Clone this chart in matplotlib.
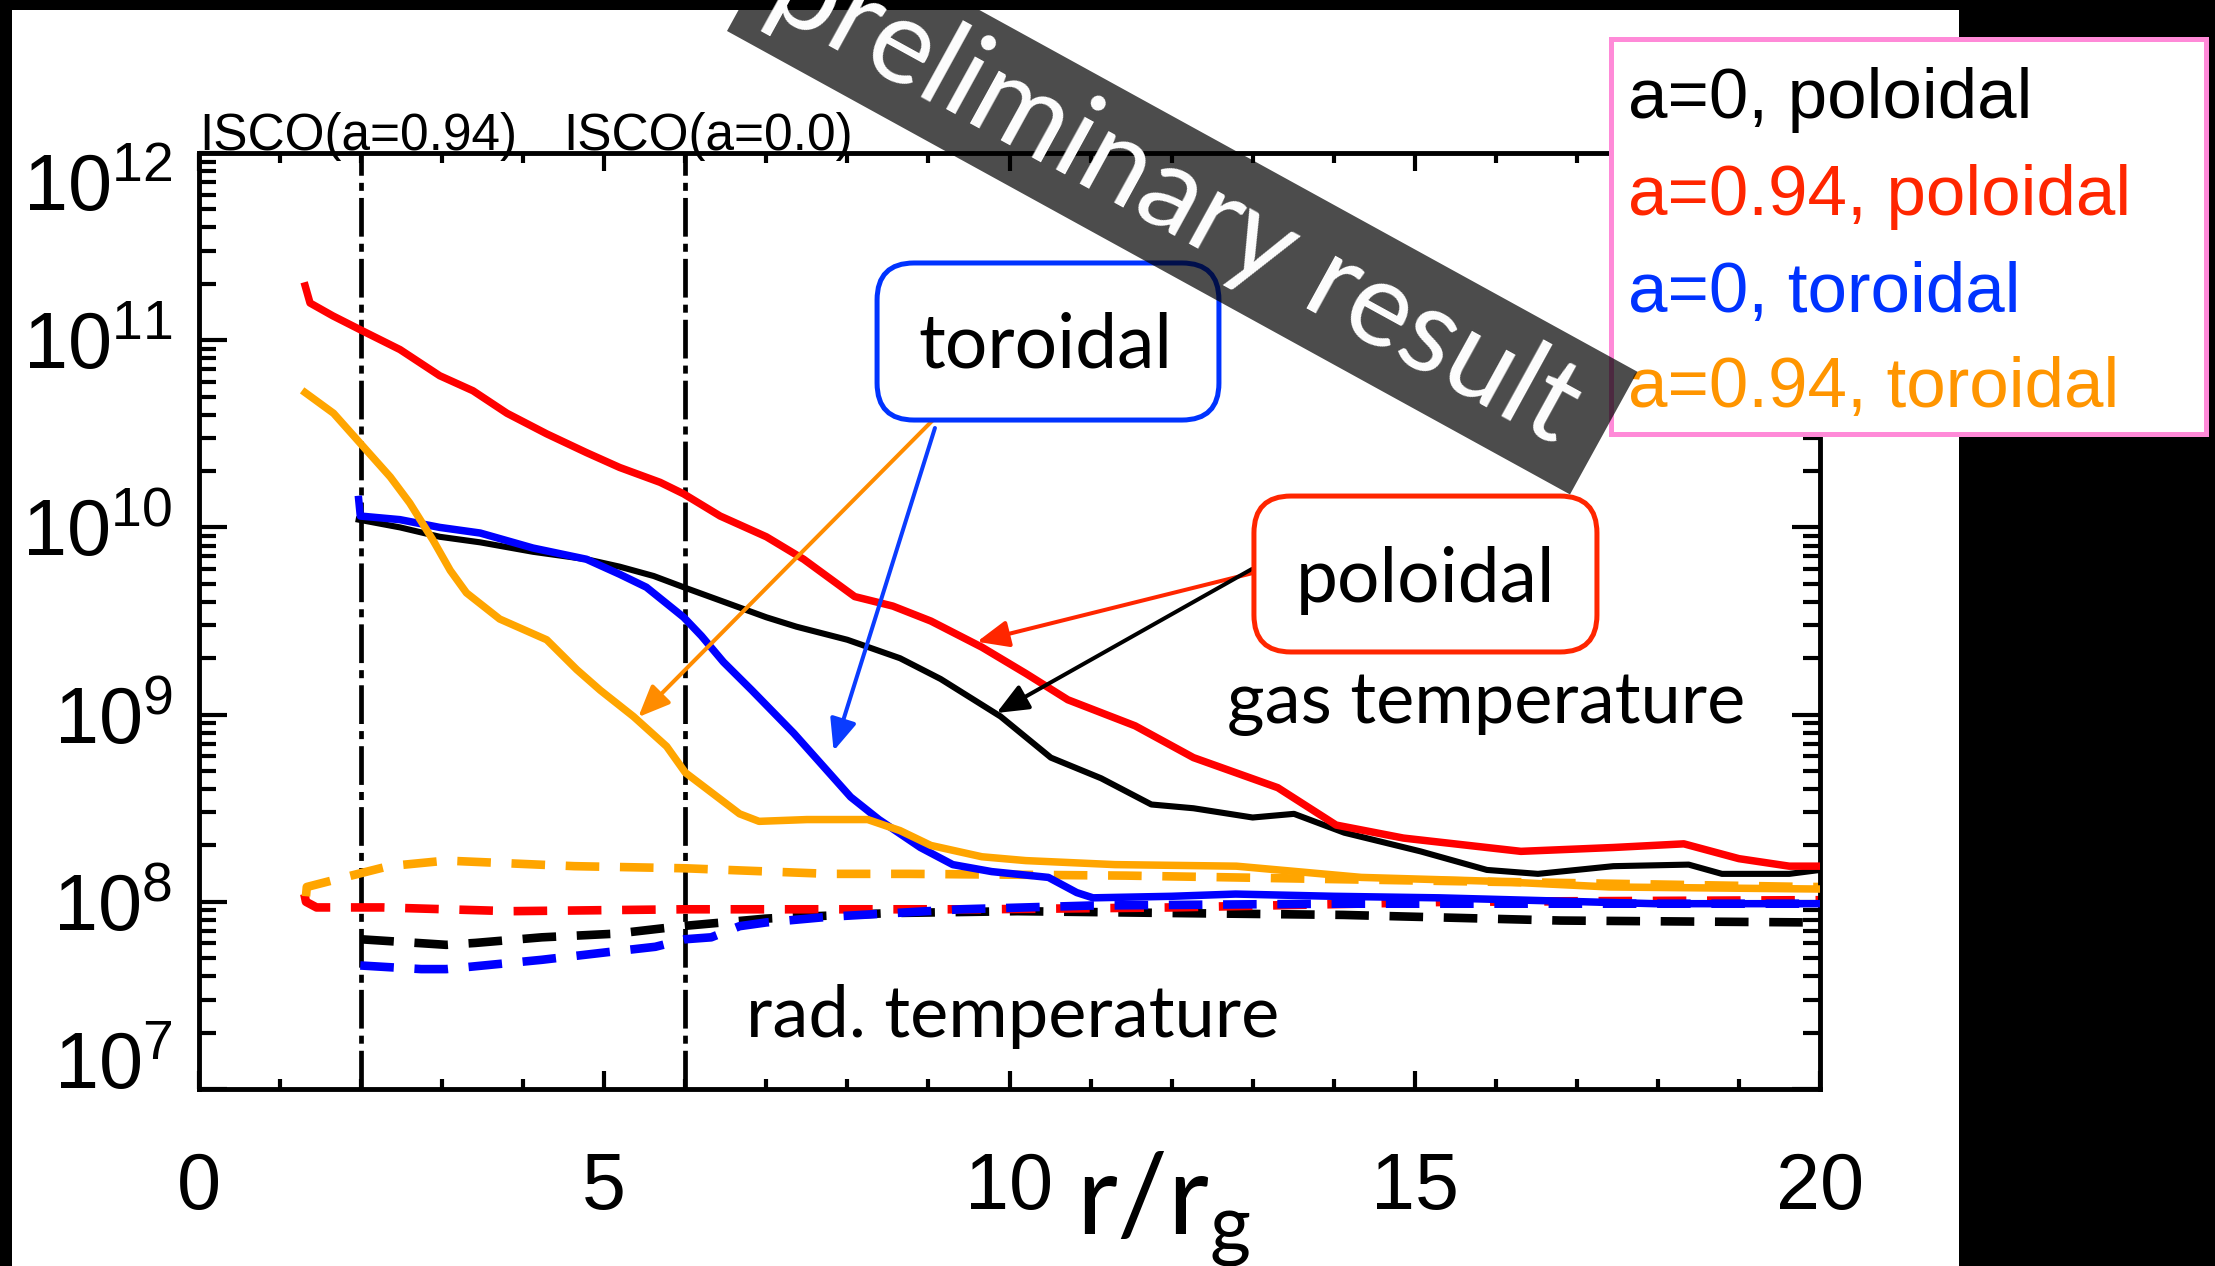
import numpy as np
import matplotlib
matplotlib.use("Agg")
import matplotlib.pyplot as plt
from matplotlib.patches import Rectangle, FancyBboxPatch, Polygon
from matplotlib.ticker import (LogLocator, LogFormatterMathtext, MultipleLocator,
                               NullFormatter, FixedLocator)

plt.rcParams['font.family'] = ['Liberation Sans', 'DejaVu Sans']
plt.rcParams['mathtext.default'] = 'regular'

# ---------------------------------------------------------------- data
# gas temperature, a=0 poloidal
r_gas_a0_pol = [1.97, 2.48, 2.97, 3.47, 4.12, 4.78, 5.19, 5.61, 5.98, 6.43, 7.00, 7.37,
                8.0, 8.65, 9.15, 9.89, 10.51, 11.13, 11.75, 12.27, 13.0, 13.51, 14.13,
                15.07, 15.89, 16.52, 17.45, 18.38, 18.79, 19.62, 20.0]
T_gas_a0_pol = [1.10e10, 1.00e10, 8.91e9, 8.32e9, 7.41e9, 6.76e9, 6.17e9, 5.50e9, 4.79e9,
                4.07e9, 3.31e9, 2.95e9, 2.51e9, 2.00e9, 1.55e9, 9.77e8, 5.89e8, 4.57e8,
                3.31e8, 3.16e8, 2.82e8, 2.95e8, 2.34e8, 1.86e8, 1.48e8, 1.41e8, 1.55e8,
                1.58e8, 1.41e8, 1.41e8, 1.48e8]

# gas temperature, a=0.94 poloidal
r_gas_a094_pol = [1.31, 1.37, 1.65, 2.02, 2.48, 2.97, 3.38, 3.80, 4.29, 4.78, 5.19, 5.69,
                  5.98, 6.43, 7.00, 7.46, 8.09, 8.56, 9.03, 9.66, 10.2, 10.72, 11.55, 12.27,
                  13.31, 14.03, 14.86, 15.89, 16.31, 17.45, 18.32, 19.0, 19.62, 20.0]
T_gas_a094_pol = [1.95e11, 1.58e11, 1.35e11, 1.12e11, 8.91e10, 6.46e10, 5.37e10, 4.07e10,
                  3.16e10, 2.51e10, 2.09e10, 1.74e10, 1.51e10, 1.15e10, 8.91e9, 6.76e9,
                  4.27e9, 3.80e9, 3.16e9, 2.29e9, 1.66e9, 1.20e9, 8.71e8, 5.89e8, 4.07e8,
                  2.57e8, 2.19e8, 1.95e8, 1.86e8, 1.95e8, 2.04e8, 1.70e8, 1.55e8, 1.55e8]

# gas temperature, a=0 toroidal
r_gas_a0_tor = [1.97, 1.99, 2.48, 2.97, 3.47, 4.12, 4.78, 5.19, 5.52, 5.98, 6.20, 6.47,
                6.82, 7.34, 8.04, 8.39, 8.90, 9.30, 9.78, 10.48, 10.83, 11.03, 12.0, 12.79,
                14.0, 15.3, 17.96, 20.0]
T_gas_a0_tor = [1.41e10, 1.15e10, 1.10e10, 1.00e10, 9.33e9, 7.76e9, 6.76e9, 5.62e9, 4.79e9,
                3.31e9, 2.63e9, 1.91e9, 1.35e9, 7.94e8, 3.63e8, 2.75e8, 1.95e8, 1.58e8,
                1.45e8, 1.35e8, 1.12e8, 1.05e8, 1.07e8, 1.10e8, 1.07e8, 1.05e8, 9.77e7,
                9.77e7]

# gas temperature, a=0.94 toroidal
r_gas_a094_tor = [1.31, 1.66, 2.03, 2.36, 2.60, 2.89, 3.10, 3.30, 3.71, 4.29, 4.66, 4.95,
                  5.36, 5.77, 6.0, 6.67, 6.91, 7.5, 8.25, 8.65, 9.03, 9.66, 10.2, 11.3,
                  12.8, 14.34, 15.9, 17.4, 20.0]
T_gas_a094_tor = [5.25e10, 4.07e10, 2.69e10, 1.86e10, 1.35e10, 8.51e9, 5.89e9, 4.47e9,
                  3.24e9, 2.51e9, 1.74e9, 1.35e9, 9.77e8, 6.76e8, 4.90e8, 2.95e8, 2.69e8,
                  2.75e8, 2.75e8, 2.40e8, 2.00e8, 1.74e8, 1.66e8, 1.58e8, 1.55e8, 1.35e8,
                  1.29e8, 1.20e8, 1.17e8]

# radiation temperature
r_rad_a0_pol = [1.99, 3.05, 3.41, 4.23, 5.15, 5.95, 6.99, 7.43, 8.56, 10.1, 12.0, 14.12,
                16.8, 19.86, 20.0]
T_rad_a0_pol = [6.31e7, 5.89e7, 6.03e7, 6.46e7, 6.76e7, 7.41e7, 8.13e7, 8.32e7, 8.71e7,
                8.91e7, 8.71e7, 8.51e7, 7.94e7, 7.76e7, 7.76e7]

r_rad_a094_pol = [1.30, 1.32, 1.45, 2.0, 2.27, 3.84, 6.0, 7.77, 9.66, 12.0, 15.45, 19.86, 20.0]
T_rad_a094_pol = [1.10e8, 1.00e8, 9.33e7, 9.33e7, 9.33e7, 8.91e7, 9.12e7, 9.12e7, 9.12e7,
                  9.33e7, 1.00e8, 1.02e8, 1.02e8]

r_rad_a0_tor = [1.99, 2.74, 3.05, 4.23, 5.02, 5.63, 6.0, 6.32, 6.67, 7.0, 7.77, 9.4, 11.0,
                14.0, 17.0, 20.0]
T_rad_a0_tor = [4.57e7, 4.37e7, 4.37e7, 4.90e7, 5.37e7, 5.75e7, 6.31e7, 6.46e7, 7.41e7,
                7.76e7, 8.32e7, 9.12e7, 9.55e7, 9.77e7, 9.77e7, 9.77e7]

r_rad_a094_tor = [1.32, 1.33, 1.79, 2.34, 3.05, 4.63, 6.0, 7.77, 8.76, 11.44, 15.45, 19.86, 20.0]
T_rad_a094_tor = [1.07e8, 1.20e8, 1.35e8, 1.55e8, 1.66e8, 1.55e8, 1.51e8, 1.41e8, 1.41e8,
                  1.38e8, 1.29e8, 1.20e8, 1.20e8]

# ISCO radii for the two spins
isco_r = [2.0, 6.0]
isco_labels = ['ISCO(a=0.94)', 'ISCO(a=0.0)']

legend_labels = ['a=0, poloidal', 'a=0.94, poloidal', 'a=0, toroidal', 'a=0.94, toroidal']

x_ticks = [0, 5, 10, 15, 20]
y_decades = [1e7, 1e8, 1e9, 1e10, 1e11, 1e12]

# points the callout arrows aim at (r, T)
toroidal_targets = [(5.42, 9.7e8), (7.83, 6.4e8)]
poloidal_targets = [(9.60, 2.45e9), (9.84, 1.02e9)]

# ---------------------------------------------------------------- styling
C_BLACK = 'black'
C_RED = '#ff0000'
C_BLUE = '#0000ff'
C_ORANGE = '#ffa500'
LEGEND_COLORS = ['black', '#ff2600', '#0033ff', '#ff9500']
GILL = ['Lato', 'DejaVu Sans']

W, H = 2215, 1266
fig = plt.figure(figsize=(W / 100, H / 100), dpi=100, facecolor='black')


def fxp(px):
    return px / W


def fyp(py):
    return 1 - py / H


# white slide area
fig.add_artist(Rectangle((fxp(12), 0), fxp(1959) - fxp(12), fyp(10),
                         transform=fig.transFigure, facecolor='white',
                         edgecolor='none', zorder=-10))

ax_l, ax_r, ax_t, ax_b = 199, 1820, 153, 1089
ax = fig.add_axes([fxp(ax_l), fyp(ax_b), (ax_r - ax_l) / W, (ax_b - ax_t) / H])
ax.set_facecolor('white')
ax.set_xlim(0, 20)
ax.set_yscale('log')
ax.set_ylim(1e7, 1e12)

solid_lw = 5.4
ax.plot(r_gas_a0_pol, T_gas_a0_pol, color=C_BLACK, lw=4.4, zorder=3)
ax.plot(r_gas_a094_pol, T_gas_a094_pol, color=C_RED, lw=solid_lw, zorder=3)
ax.plot(r_gas_a0_tor, T_gas_a0_tor, color=C_BLUE, lw=solid_lw, zorder=3)
ax.plot(r_gas_a094_tor, T_gas_a094_tor, color=C_ORANGE, lw=solid_lw, zorder=3)

dash_kw = dict(lw=6.2, dashes=(3.9, 2.4), dash_capstyle='butt', zorder=2.5)
ax.plot(r_rad_a0_pol, T_rad_a0_pol, color=C_BLACK, **dash_kw)
ax.plot(r_rad_a094_pol, T_rad_a094_pol, color=C_RED, **dash_kw)
ax.plot(r_rad_a0_tor, T_rad_a0_tor, color=C_BLUE, **dash_kw)
ax.plot(r_rad_a094_tor, T_rad_a094_tor, color=C_ORANGE, **dash_kw)

for xr in isco_r:
    ax.axvline(xr, color='black', lw=3.4, dashes=(8.2, 1.5, 1.7, 1.5),
               dash_capstyle='butt', zorder=2)

# axes frame and ticks
for sp in ax.spines.values():
    sp.set_linewidth(3.5)
ax.xaxis.set_major_locator(FixedLocator(x_ticks))
ax.xaxis.set_minor_locator(MultipleLocator(1))
ax.set_xticklabels([str(v) for v in x_ticks])
ax.yaxis.set_major_locator(FixedLocator(y_decades))
ax.yaxis.set_major_formatter(LogFormatterMathtext())
ax.yaxis.set_minor_locator(LogLocator(base=10, subs=np.arange(2, 10), numticks=30))
ax.yaxis.set_minor_formatter(NullFormatter())
ax.tick_params(which='both', direction='in', top=True, right=True, width=3.0,
               labelsize=57)
ax.tick_params(axis='x', which='major', length=13, pad=45)
ax.tick_params(axis='x', which='minor', length=7)
ax.tick_params(axis='y', which='major', length=20, pad=19)
ax.tick_params(axis='y', which='minor', length=12)

ax.set_xlabel(r'r/r$_{\mathregular{g}}$', fontsize=81, family=GILL, va='baseline')
ax.xaxis.set_label_coords(0.595, -0.156)

# ISCO captions above the frame
ax.text(0.0, 1.003, isco_labels[0], transform=ax.transAxes, fontsize=37,
        ha='left', va='baseline')
ax.text(0.2246, 1.003, isco_labels[1], transform=ax.transAxes, fontsize=37,
        ha='left', va='baseline')

# inline labels
ax.text(0.6342, 0.3910, 'gas temperature', transform=ax.transAxes, fontsize=52,
        family=GILL, ha='left', va='baseline')
ax.text(0.3374, 0.0556, 'rad. temperature', transform=ax.transAxes, fontsize=52,
        family=GILL, ha='left', va='baseline')

# callout boxes
aspect = (ax_r - ax_l) / (ax_b - ax_t)


def callout(x0, x1, yb, yt, color, label, tx, ty):
    box = FancyBboxPatch((x0, yb), x1 - x0, yt - yb,
                         boxstyle='round,pad=0,rounding_size=0.0228',
                         mutation_aspect=aspect, transform=ax.transAxes,
                         facecolor='white', edgecolor=color, lw=3.6,
                         clip_on=False, zorder=6)
    ax.add_patch(box)
    ax.text(tx, ty, label, transform=ax.transAxes, fontsize=54, family=GILL,
            ha='center', va='baseline', zorder=7)


callout(0.4183, 0.6292, 0.7147, 0.8825, '#0033ff', 'toroidal', 0.5219, 0.7703)
callout(0.6508, 0.8624, 0.4669, 0.6335, '#ff2600', 'poloidal', 0.7569, 0.5203)

arrow_style = '-|>,head_length=0.4,head_width=0.17'


def pointer(target, tail, color):
    ax.annotate('', xy=target, xycoords='data', xytext=tail,
                textcoords='axes fraction',
                arrowprops=dict(arrowstyle=arrow_style, mutation_scale=48,
                                color=color, lw=2.9, shrinkA=0, shrinkB=0),
                zorder=5)


pointer(toroidal_targets[0], (0.4565, 0.7212), '#ff8c00')
pointer(toroidal_targets[1], (0.4540, 0.7062), '#0a3cff')
pointer(poloidal_targets[0], (0.6502, 0.5513), '#ff2600')
pointer(poloidal_targets[1], (0.6496, 0.5556), 'black')

# legend panel
fig.add_artist(Rectangle((fxp(1611), fyp(434)), fxp(2206) - fxp(1611), fyp(39) - fyp(434),
                         transform=fig.transFigure, facecolor='white',
                         edgecolor='#ff8ad8', lw=3.6, zorder=8))
for lbl, col, base in zip(legend_labels, LEGEND_COLORS, [118, 215, 312, 407]):
    fig.text(fxp(1628), fyp(base), lbl, color=col, fontsize=51,
             ha='left', va='baseline', zorder=9)

# "preliminary result" banner
theta = np.deg2rad(28.8)
u = np.array([np.cos(theta), np.sin(theta)])
n = np.array([np.sin(theta), -np.cos(theta)])
ll = np.array([727.0, 31.0])
length, thick = 962.0, 140.0
corners = [ll, ll + length * u, ll + length * u + thick * n, ll + thick * n]
fig.add_artist(Polygon([(fxp(c[0]), fyp(c[1])) for c in corners], closed=True,
                       transform=fig.transFigure, facecolor='black', alpha=0.7,
                       edgecolor='none', zorder=10))
mid = ll + 0.5 * length * u + 0.5 * thick * n - 8 * u
fig.text(fxp(mid[0]), fyp(mid[1]), 'preliminary result', color='white',
         fontsize=85, family=GILL, rotation=-28.8, rotation_mode='anchor',
         ha='center', va='center', zorder=11)

fig.canvas.draw()
yticks = ax.yaxis.get_major_ticks()
yticks[0].label1.set_va('baseline')
yticks[-1].label1.set_va('top')

fig.savefig('out.png', dpi=100, facecolor=fig.get_facecolor())
